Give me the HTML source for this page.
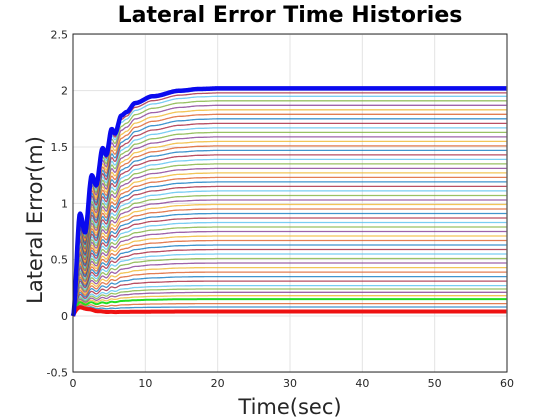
<!DOCTYPE html>
<html><head><meta charset="utf-8"><style>
body{margin:0;background:#fff;}
svg{display:block;font-family:"DejaVu Sans","Liberation Sans",sans-serif;}
</style></head><body>
<svg id="chart" width="560" height="420">
<rect x="0" y="0" width="560" height="420" fill="#fff"/>
<rect x="73" y="34" width="434" height="338" fill="#fff"/>
<g id="grid"></g>
<g id="lines"></g>
<rect x="73" y="34" width="434" height="338" fill="none" stroke="#262626" stroke-width="1"/>
<g id="ticks"></g>
<text x="290" y="22" text-anchor="middle" font-size="22" font-weight="bold">Lateral Error Time Histories</text>
<text x="290" y="414" text-anchor="middle" font-size="21" fill="#262626">Time(sec)</text>
<text transform="translate(42,220) rotate(-90)" text-anchor="middle" font-size="21" fill="#262626">Lateral Error(m)</text>
</svg>
<script>
const xTicks=[0,10,20,30,40,50,60];
const yTicks=[-0.5,0,0.5,1,1.5,2,2.5];
const yTickLabels=["-0.5","0","0.5","1","1.5","2","2.5"];
const blueT=[0,0.97,1.66,2.6,3.2,4.1,4.6,5.35,5.8,6.7,7.4,8.6,11,14.8,17.5,20,60];
const blueY=[0,0.91,0.74,1.25,1.16,1.49,1.43,1.66,1.62,1.78,1.81,1.89,1.95,2.0,2.015,2.02,2.02];
const finals=[0.08,0.11,0.18,0.21,0.24,0.27,0.31,0.35,0.39,0.43,0.47,0.51,0.55,0.59,0.63,0.67,0.71,0.75,0.79,0.83,0.87,0.91,0.95,0.99,1.03,1.07,1.11,1.15,1.19,1.23,1.27,1.31,1.35,1.39,1.43,1.47,1.51,1.55,1.59,1.63,1.67,1.71,1.75,1.79,1.83,1.87,1.91,1.95,1.98];
const redFinal=0.04, greenFinal=0.15;
const NS="http://www.w3.org/2000/svg";
const X=t=>73+t/60*434;
const Y=v=>316-v/0.5*56.33;
const grid=document.getElementById('grid'),ticks=document.getElementById('ticks'),lines=document.getElementById('lines');
function mk(tag,at,parent){const e=document.createElementNS(NS,tag);for(const k in at)e.setAttribute(k,at[k]);parent.appendChild(e);return e;}
xTicks.forEach(t=>{
 const g=mk('line',{x1:X(t),x2:X(t),y1:34,y2:372,stroke:'#e3e3e3'},grid);
 
 
 const tx=mk('text',{x:X(t),y:387,'text-anchor':'middle','font-size':11,fill:'#262626'},ticks);
 tx.textContent=t;
 
 
});
yTicks.forEach((v,i)=>{
 const g=mk('line',{x1:73,x2:507,y1:Y(v),y2:Y(v),stroke:'#e3e3e3'},grid);
 
 
 const tx=mk('text',{x:68,y:Y(v)+4,'text-anchor':'end','font-size':11,fill:'#262626'},ticks);
 tx.textContent=yTickLabels[i];
 
 
});
const colors=['#0072BD','#D95319','#EDB120','#7E2F8E','#77AC30','#4DBEEE','#A2142F'];
const ts=[];for(let t=0;t<=60;t+=0.1)ts.push(t);
function blueAt(t){for(let i=1;i<blueT.length;i++){if(t<=blueT[i]){const a=(t-blueT[i-1])/(blueT[i]-blueT[i-1]);const s=a*a*(3-2*a);return blueY[i-1]+s*(blueY[i]-blueY[i-1]);}}return blueY[blueY.length-1];}
function resp(f,t){const n=blueAt(t)/2.02;const bump=0.06*t*Math.exp(1-t);return f*n+bump*(1-f/2.1);}
function path(fn){return ts.map((t,i)=>(i?'L':'M')+X(t).toFixed(1)+','+Y(fn(t)).toFixed(1)).join('');}
finals.forEach((f,i)=>{
 const p=mk('path',{d:path(t=>resp(f,t)),fill:'none',stroke:colors[i%7],'stroke-width':1.3,'stroke-opacity':0.75},lines);
 
 
});
const g=mk('path',{d:path(t=>resp(greenFinal,t)),fill:'none',stroke:'#22dd22','stroke-width':2},lines);


const r=mk('path',{d:path(t=>resp(redFinal,t)),fill:'none',stroke:'#ee1111','stroke-width':4},lines);


const b=mk('path',{d:path(t=>blueAt(t)),fill:'none',stroke:'#0a0aee','stroke-width':4.5,'stroke-linejoin':'round'},lines);


</script>
</body></html>
